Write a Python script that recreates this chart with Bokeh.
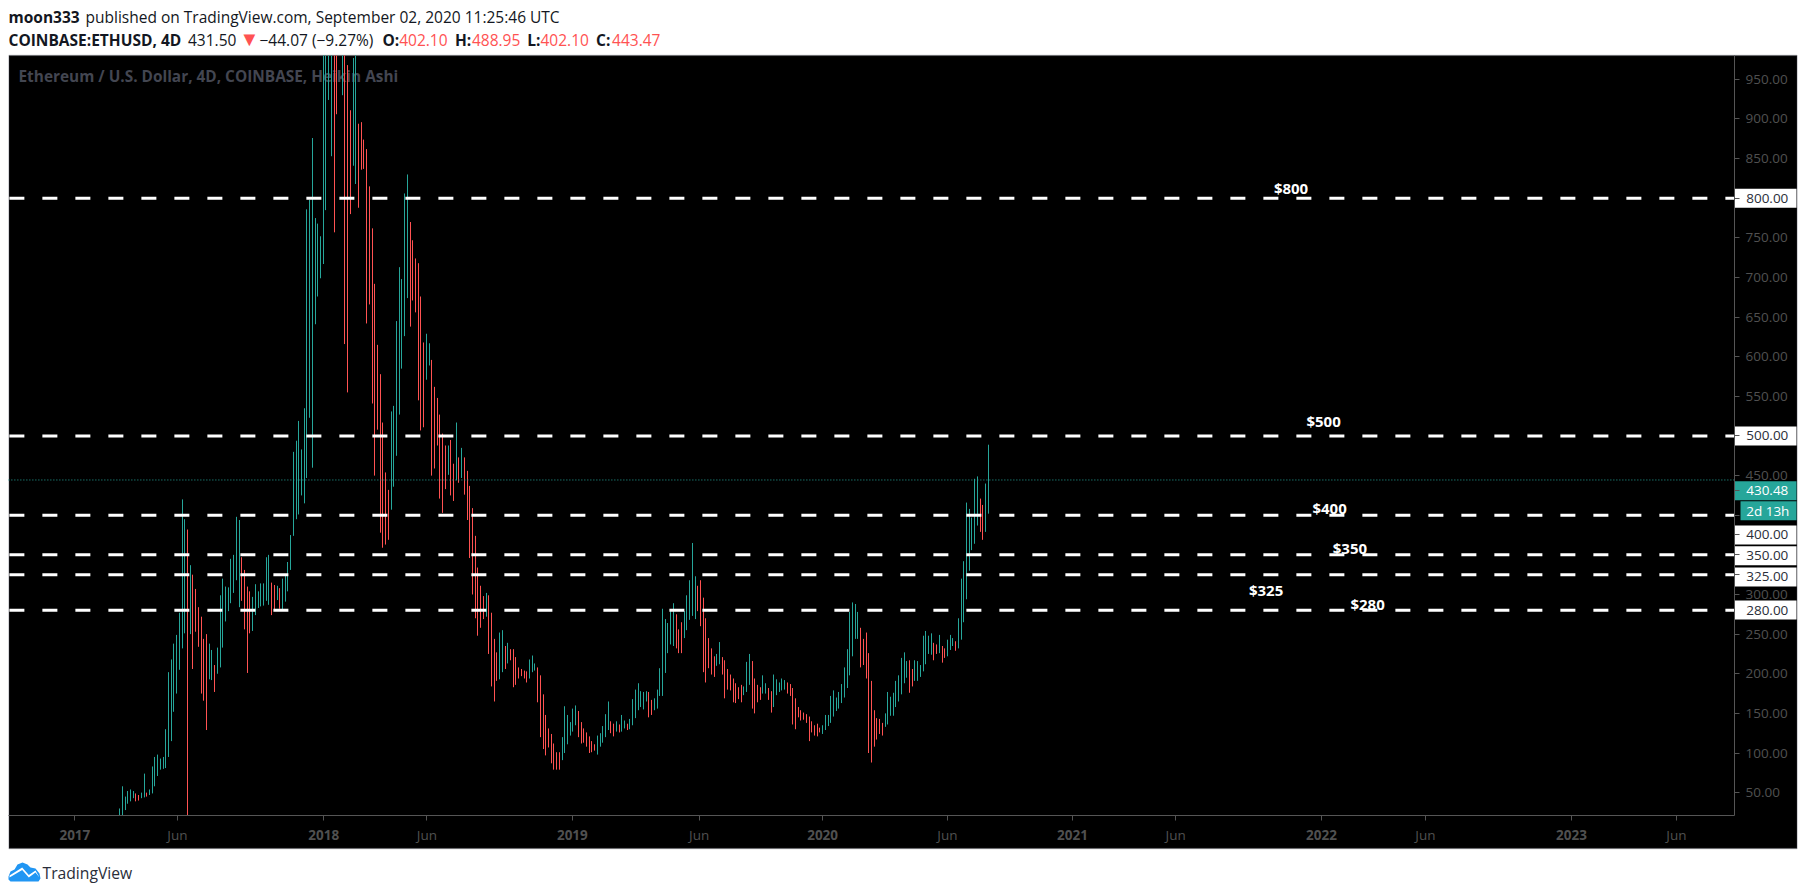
import math
from bokeh.plotting import figure
from bokeh.models import (Range1d, FixedTicker, Label, LinearAxis, PolyAnnotation, ColumnDataSource)
from bokeh.embed import file_html
from bokeh.resources import INLINE

# ---- data (USD, one entry per 4-day Heikin Ashi bar) ----
bar_high = [
 21.5,19,30,58,45,52,54,52,49,47, 50,74,50,54,83,95,98,93,95,130,
 202,218,238,249,277,420,395,382,337,325, 307,284,272,244,250,238,230,211,233,299,
 320,310,309,345,350,398,394,347,331,310, 304,297,313,304,314,314,347,350,315,312,
 311,308,320,325,341,375,480,494,519,483, 535,786,798,876,775,768,752,1100,1200,1300,
 1350,1400,1350,1250,1150,1100,968,911,977,1050, 894,896,874,862,815,762,
 692,615,578,517,454,432,531,538,645,713, 698,806,830,770,747,724,718,676,618,629,
 617,596,562,548,527,503,488,488,495,465, 517,473,485,473,456,437,409,374,334,
 311,298,302,299,277,244,227,252,255,235, 239,231,231,221,208,206,204,203,218,223,
 213,208,198,174,148,131,124,112,101,101, 120,159,148,139,156,160,153,139,131,126,
 121,115,111,122,125,134,149,165,140,137, 140,136,148,141,137,143,168,180,188,178,
 177,178,177,167,169,180,207,282,269,264, 279,289,275,256,265,279,299,318,365,323,
 311,318,296,270,245,232,222,225,240,221, 217,206,199,194,188,183,186,184,215,225,
 216,194,186,183,198,188,182,178,199,193, 189,194,192,189,187,182,169,158,154,151,
 149,146,140,135,137,132,135,148,148,172, 179,170,177,187,208,231,278,290,288,278,
 258,244,252,226,191,154,144,143,
 138,150,177,171,176,191,198,220,227,216, 217,206,217,216,211,248,254,248,251,239,
 237,249,235,232,243,249,245,241,270,320, 342,416,408,397,446,449,421,413,440,489,
]
bar_low = [
 20,18,15,18,28,36,39,43,39,40, 43,44,45,47,49,58,71,79,80,81,
 95,115,152,175,205,232,251,13,250,206, 253,234,175,166,129,193,192,177,200,208,
 233,266,279,289,302,318,284,292,256,201, 251,254,274,283,285,286,292,287,274,281,
 293,282,281,291,304,331,374,395,401,425, 415,447,523,460,641,676,699,717,785,924,
 853,757,906,1050,930,616,555,780,841,818, 788,836,837,642,666,541,
 450,508,378,359,363,369,407,436,475,527, 585,626,674,638,671,656,545,507,511,571,
 589,450,459,488,421,403,433,451,425,418, 444,441,447,426,394,346,300,270,248,
 258,269,272,225,184,165,191,193,202,206, 213,217,183,186,194,197,194,189,194,202,
 204,164,120,105,97,107,87,79,79,79, 91,100,111,122,127,135,120,112,113,108,
 100,101,103,98,108,113,120,129,125,121, 127,126,127,131,129,130,135,144,154,158,
 155,165,145,148,154,156,172,172,201,226, 237,235,232,226,226,245,255,268,273,269,
 279,260,202,189,207,199,196,210,212,199, 169,180,179,164,163,168,164,173,177,186,
 156,150,164,167,175,175,167,151,158,173, 177,179,180,175,172,136,130,145,141,142,
 138,115,126,122,121,126,124,129,134,138, 146,153,156,163,170,182,198,222,244,244,
 208,211,194,100,88,108,117,124,
 122,133,136,147,147,158,165,174,188,195, 176,184,191,191,196,203,212,225,224,217,
 225,226,214,220,222,230,235,229,232,243, 265,294,330,356,364,387,379,369,379,402,
]
bar_dir = "".join([
 "uuuuuuuudd","uuduuuuuuu","uuuuuuudud","ddddduuduu","uuuuuuuddd",
 "duuuuuuudd","uduuuuuuuu","uuuuuuuuuu","udddudddUU".lower(),"dddddddddd",
 "dduuuuuuud","ddddduuddd","ddduddudud","ddddd",
 "ddudddduud","uddddddduu","uddddddddd","uuuuuudddd","ddduuuuudd",
 "uduuduuuuu","uudduuuuuu","uuddduuuuu","ddddddduud","ddddddduuu",
 "dddduudduu","uuuddddddd","dddddduuuu","uuuuuuuuuu","dddddddd",
 "duuuuuuuuu","dduuuuuuud","dudduuuduu","uuuuuudduu",
])
assert len(bar_high) == len(bar_low) == len(bar_dir), (len(bar_high), len(bar_low), len(bar_dir))

level_prices = [800, 500, 400, 350, 325, 280]
level_texts = ["$800", "$500", "$400", "$350", "$325", "$280"]
level_text_bar = [433.4, 445.4, 447.6, 455.1, 424.2, 461.6]
level_text_offset = [10, 14.6, 7.6, 7, -15.4, 6.6]

price_ticks = list(range(50, 1000, 50))
extra_price_ticks = [325, 375.1, 430.9]
time_tick_bars = [-14.7, 23.1, 77.0, 115.0, 168.6, 215.3, 260.8, 306.8, 352.9, 390.9, 444.6, 482.9, 536.7, 575.4]
time_tick_labels = ["2017", "Jun", "2018", "Jun", "2019", "Jun", "2020", "Jun", "2021", "Jun", "2022", "Jun", "2023", "Jun"]

last_close_line = 444.5
scale_labels = [("800.00", 800, "#ffffff", "#2a2e39"), ("500.00", 500, "#ffffff", "#2a2e39"),
                ("400.00", 375.1, "#ffffff", "#2a2e39"), ("350.00", 349, "#ffffff", "#2a2e39"),
                ("325.00", 322.1, "#ffffff", "#2a2e39"), ("280.00", 280.4, "#ffffff", "#2a2e39"),
                ("430.48", 430.9, "#26a69a", "#ffffff"), ("2d 13h", 405.6, "#26a69a", "#ffffff")]

TEAL, RED, GREY, AXC = "#26a69a", "#ff5252", "#434651", "#505050"
FONT = "Open Sans"
W, H = 1805, 895
PRICE_MIN, PRICE_MAX = 21.1, 980.1   # the visible price window of the chart
BAR_LEFT, BAR_RIGHT = -39.2, 596.8   # the visible bar window of the chart
X_START, X_END = -42.1, 622.95

def fy(page_y):
    return H - page_y
def price_row(price):
    return 815 - 760 * (price - PRICE_MIN) / (PRICE_MAX - PRICE_MIN)
def snapped_bar(i):
    # bar numbers nudged so that each line falls on a whole pixel position
    per_bar = W / (X_END - X_START)
    col = math.floor((i - X_START) * per_bar)
    return col / per_bar + X_START

# the plot area is the whole page; the chart window sits inside it
p = figure(width=W, height=H, output_backend="svg", toolbar_location=None,
           x_range=Range1d(X_START, X_END), y_range=Range1d(-79.8, 1049.5),
           x_axis_location=None, y_axis_location=None,
           min_border_left=0, min_border_right=0, min_border_top=0, min_border_bottom=0,
           background_fill_color="white", border_fill_color="white", outline_line_color=None)
p.grid.visible = False

def poly(xs, ys, color, level="underlay", line=None):
    p.add_layout(PolyAnnotation(xs=list(xs), ys=[fy(v) for v in ys],
                                xs_units="screen", ys_units="screen", fill_color=color, fill_alpha=1,
                                line_color=line, line_width=1.5, level=level))

poly([8.5, 1796.5, 1796.5, 8.5], [55, 55, 848, 848], "black", line=GREY)

yaxis = LinearAxis(fixed_location=BAR_RIGHT, bounds=(PRICE_MIN, PRICE_MAX), level="overlay",
                   ticker=FixedTicker(ticks=price_ticks + extra_price_ticks))
hidden = [800, 500, 400, 350, 280]
labels = {t: ("" if t in hidden else f"{t}.00") for t in price_ticks}
labels.update({t: "" for t in extra_price_ticks})
yaxis.major_label_overrides = labels
yaxis.major_label_standoff = 6
p.add_layout(yaxis, "right")

xaxis = LinearAxis(fixed_location=PRICE_MIN, bounds=(BAR_LEFT, BAR_RIGHT),
                   ticker=FixedTicker(ticks=time_tick_bars))
xaxis.major_label_overrides = {b: (t if t == "Jun" else "") for b, t in zip(time_tick_bars, time_tick_labels)}
xaxis.major_label_standoff = 5
p.add_layout(xaxis, "below")

for ax in (xaxis, yaxis):
    ax.axis_line_color = "#555555"
    ax.major_tick_line_color = "#555555"
    ax.major_tick_in = 0
    ax.major_tick_out = 5
    ax.minor_tick_line_color = None
    ax.major_label_text_color = AXC
    ax.major_label_text_font = FONT
    ax.major_label_text_font_size = "13.5px"

# chart title behind the bars
p.add_layout(Label(x=18, y=fy(76), x_units="screen", y_units="screen",
                   text="Ethereum / U.S. Dollar, 4D, COINBASE, Heikin Ashi",
                   text_font=FONT, text_font_size="15.4px", text_font_style="bold",
                   text_color=GREY, text_baseline="middle", level="underlay"))

# bars, cut to the chart window
src = ColumnDataSource(dict(i=[snapped_bar(i) for i in range(len(bar_high))],
                            high=[min(max(v, PRICE_MIN), PRICE_MAX) for v in bar_high],
                            low=[min(max(v, PRICE_MIN), PRICE_MAX) for v in bar_low],
                            color=[TEAL if d == "u" else RED for d in bar_dir]))
p.segment(x0="i", y0="low", x1="i", y1="high", color="color", line_width=1, source=src)

p.segment(x0=[BAR_LEFT], y0=[last_close_line], x1=[BAR_RIGHT], y1=[last_close_line],
          line_color=TEAL, line_width=1, line_dash="1 2")
n = len(level_prices)
p.segment(x0=[BAR_LEFT + 0.37] * n, y0=level_prices, x1=[BAR_RIGHT] * n, y1=level_prices,
          line_color="white", line_width=3, line_dash="15 18")

for t, b, lv, off in zip(level_texts, level_text_bar, level_prices, level_text_offset):
    p.add_layout(Label(x=b, y=lv, y_offset=off, text=t, text_color="white", text_font=FONT,
                       text_font_size="15px", text_font_style="bold", text_align="center",
                       text_baseline="middle", level="overlay"))

# year labels, bolder than the month labels
for b, t in zip(time_tick_bars, time_tick_labels):
    if t != "Jun":
        p.add_layout(Label(x=b, y=fy(834.5), y_units="screen", text=t, text_color=AXC, text_font=FONT,
                           text_font_size="13.5px", text_font_style="bold", text_align="center",
                           text_baseline="middle", level="overlay"))

# price scale tags
for t, price, bg, fg in scale_labels:
    left = 1734.5 if t != "2d 13h" else 1740
    yp = price_row(price)
    poly([left, 1796, 1796, left], [yp - 9.5, yp - 9.5, yp + 9.5, yp + 9.5], bg, level="annotation")
    p.add_layout(Label(x=1745.7, y=fy(yp), x_units="screen", y_units="screen", text=t, text_color=fg,
                       text_font=FONT, text_font_size="13.5px", text_baseline="middle", level="overlay"))

# header
def head(x, y, text, bold=False, color="#131722", size="15.5px"):
    p.add_layout(Label(x=x, y=fy(y), x_units="screen", y_units="screen", text=text, text_color=color,
                       text_font=FONT, text_font_size=size, text_font_style="bold" if bold else "normal",
                       text_baseline="middle", level="overlay"))

head(8, 16, "moon333", True)
head(85, 16, "published on TradingView.com, September 02, 2020 11:25:46 UTC")
head(8, 39, "COINBASE:ETHUSD, 4D", True)
head(187.5, 39, "431.50")
head(239, 38, "▼", color=RED, size="20px")
head(259, 39, "−44.07 (−9.27%)")
head(382, 39, "O:", True); head(398.7, 39, "402.10", color=RED)
head(454.5, 39, "H:", True); head(471.4, 39, "488.95", color=RED)
head(526.8, 39, "L:", True); head(540, 39, "402.10", color=RED)
head(595.5, 39, "C:", True); head(611.6, 39, "443.47", color=RED)

# TradingView mark
poly([8, 10, 14, 17, 22, 27, 30, 35, 39, 40, 38, 10, 8],
     [876, 871, 869, 864, 862, 864, 867, 868, 873, 878, 881, 881, 879], "#2196f3", level="overlay")
poly([9, 21.7, 28.3, 35, 39, 35, 28.3, 21.7, 9],
     [875, 867, 874.5, 870, 877, 872, 877, 869.5, 877], "white", level="overlay")
head(42, 872, "TradingView", color="#2a2e39", size="15.7px")

open("out.html", "w").write(file_html(p, INLINE))
